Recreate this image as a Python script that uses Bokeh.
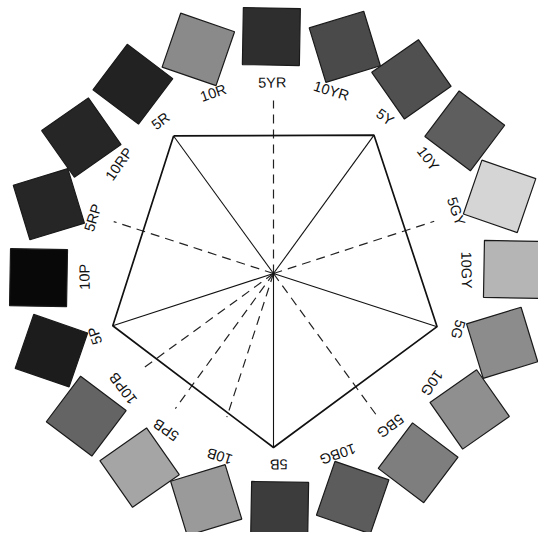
import math
from bokeh.plotting import figure
from bokeh.models import Range1d, ColumnDataSource
from bokeh.embed import file_html
from bokeh.resources import INLINE
from bokeh.core.properties import value

# ---- data ----
hues = ["5YR", "10YR", "5Y", "10Y", "5GY", "10GY", "5G", "10G", "5BG", "10BG",
        "5B", "10B", "5PB", "10PB", "5P", "10P", "5RP", "10RP", "5R", "10R"]
gray_levels = [46, 74, 80, 94, 213, 181, 140, 143, 126, 92,
               60, 154, 165, 100, 28, 8, 38, 38, 34, 138]

pentagon_hues = ["5R", "5Y", "5G", "5B", "5P"]
pentagon_radius = [170, 171, 172, 174, 169]

dashed_hues = ["5YR", "5GY", "5BG", "10B", "5PB", "10PB", "5RP"]
dashed_radius = [173, 169, 177, 151, 167, 165, 168]

# ---- layout ----
W, H = 538, 532
ring_cx, ring_cy = 275.0, 273.0
line_cx, line_cy = 273.0, 273.0
ring_rot = -1.0          # degrees
square_r = 237.0
label_r = 191.0
square_side = 57.0
step = 360.0 / len(hues)


def hue_angle(h):
    return hues.index(h) * step


def polar(cx, cy, r, deg):
    a = math.radians(deg)
    return cx + r * math.sin(a), cy - r * math.cos(a)


p = figure(width=W, height=H, output_backend="svg", toolbar_location=None,
           x_range=Range1d(0, W), y_range=Range1d(H, 0),
           min_border=0, background_fill_color="white")
p.axis.visible = False
p.grid.visible = False
p.outline_line_color = None

# squares
sx, sy, sang, scol = [], [], [], []
for i, h in enumerate(hues):
    th = i * step + ring_rot
    x, y = polar(ring_cx, ring_cy, square_r, th)
    sx.append(x); sy.append(y)
    sang.append(math.radians(th))
    g = gray_levels[i]
    scol.append("#%02x%02x%02x" % (g, g, g))
p.rect(x="x", y="y", width=square_side, height=square_side, angle="a",
       fill_color="c", line_color="#1a1a1a", line_width=1.2,
       source=ColumnDataSource(dict(x=sx, y=sy, a=sang, c=scol)))

# labels
lx, ly, la = [], [], []
for i, h in enumerate(hues):
    th = i * step + ring_rot
    x, y = polar(ring_cx, ring_cy, label_r, th)
    lx.append(x); ly.append(y); la.append(-math.radians(th))
p.text(x="x", y="y", text="t", angle="a",
       source=ColumnDataSource(dict(x=lx, y=ly, t=hues, a=la)),
       text_font=value("Liberation Sans"), text_font_size="14.5px",
       text_color="#111111", text_align="center", text_baseline="middle")

# dashed spokes
dx0, dy0, dx1, dy1 = [], [], [], []
for h, r in zip(dashed_hues, dashed_radius):
    x, y = polar(line_cx, line_cy, r, hue_angle(h))
    dx0.append(line_cx); dy0.append(line_cy); dx1.append(x); dy1.append(y)
p.segment(dx0, dy0, dx1, dy1, line_color="#222222", line_width=1.2,
          line_dash="9 6")

# pentagon + solid spokes
px, py = [], []
for h, r in zip(pentagon_hues, pentagon_radius):
    x, y = polar(line_cx, line_cy, r, hue_angle(h))
    px.append(x); py.append(y)
p.segment([line_cx] * len(px), [line_cy] * len(py), px, py,
          line_color="#111111", line_width=1.1)
p.line(px + [px[0]], py + [py[0]], line_color="#111111", line_width=1.7)

open("out.html", "w").write(file_html(p, INLINE))
